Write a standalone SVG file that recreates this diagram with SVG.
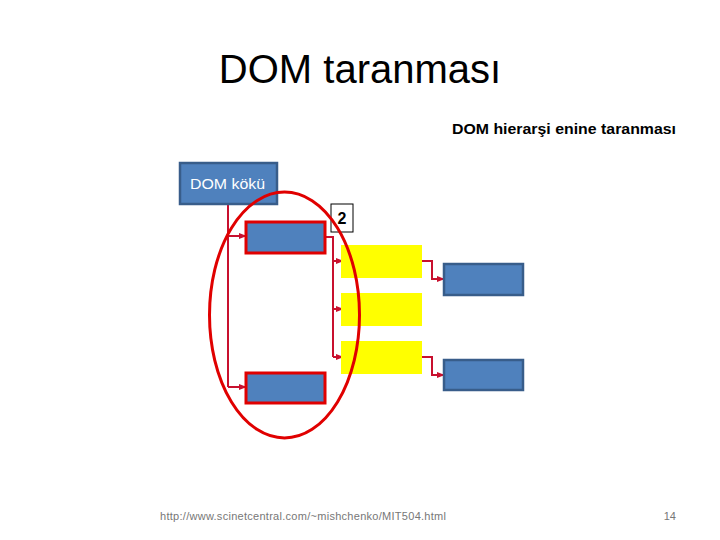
<svg xmlns="http://www.w3.org/2000/svg" width="720" height="540" viewBox="0 0 720 540">
<style>
.blue{fill:#4f81bd;stroke:#385d8a;stroke-width:2.5}
.sel{fill:#4f81bd;stroke:#e00000;stroke-width:3}
.yel{fill:#ffff00}
.con{fill:none;stroke:#c8102e;stroke-width:2}
text{font-family:"Liberation Sans",Arial,sans-serif}
</style>
<defs>
<marker id="ah" viewBox="0 0 10 10" refX="9" refY="5" markerWidth="4" markerHeight="4" orient="auto" markerUnits="strokeWidth">
<path d="M0,1 L10,5 L0,9 z" fill="#c8102e"/>
</marker>
</defs>
<rect width="720" height="540" fill="#fff"/>
<text x="360" y="83" font-size="40" text-anchor="middle" fill="#000">DOM taranması</text>
<text x="452" y="134" font-size="15" font-weight="bold" textLength="224" lengthAdjust="spacingAndGlyphs" fill="#000">DOM hierarşi enine taranması</text>

<g id="connectors">
<path class="con" d="M228,204 V387" />
<path class="con" d="M228,236 H246" marker-end="url(#ah)"/>
<path class="con" d="M228,387 H246" marker-end="url(#ah)"/>
<path class="con" d="M325,237 H333 V357" />
<path class="con" d="M333,261 H343" marker-end="url(#ah)"/>
<path class="con" d="M333,309 H343" marker-end="url(#ah)"/>
<path class="con" d="M333,357 H343" marker-end="url(#ah)"/>
<path class="con" d="M421,261 H432 V279 H444" marker-end="url(#ah)"/>
<path class="con" d="M421,357 H432 V375 H444" marker-end="url(#ah)"/>
</g>

<g id="root">
<rect class="blue" x="180" y="163" width="97" height="41"/>
<text x="190" y="189" font-size="15" textLength="75" lengthAdjust="spacingAndGlyphs" fill="#fff">DOM kökü</text>
</g>
<g id="n1"><rect class="sel" x="246" y="222" width="79" height="31"/></g>
<g id="n2"><rect class="sel" x="246" y="373" width="79" height="30"/></g>
<g id="label2">
<rect x="331" y="204" width="22" height="28" fill="#fff" stroke="#000" stroke-width="1"/>
<text x="342" y="224" font-size="16" font-weight="bold" text-anchor="middle" fill="#000">2</text>
</g>
<g id="y1"><rect class="yel" x="341" y="245" width="81" height="33"/></g>
<g id="y2"><rect class="yel" x="341" y="293" width="81" height="33"/></g>
<g id="y3"><rect class="yel" x="341" y="341" width="81" height="33"/></g>
<g id="b1"><rect class="blue" x="444" y="264" width="79" height="31"/></g>
<g id="b2"><rect class="blue" x="444" y="360" width="79" height="30"/></g>
<g id="ellipse"><ellipse cx="284.5" cy="315" rx="75" ry="123" fill="none" stroke="#e00000" stroke-width="3"/></g>

<text x="160" y="520" font-size="11" textLength="286" lengthAdjust="spacing" fill="#777">http://www.scinetcentral.com/~mishchenko/MIT504.html</text>
<text x="676" y="520" font-size="11" text-anchor="end" fill="#777">14</text>
</svg>
